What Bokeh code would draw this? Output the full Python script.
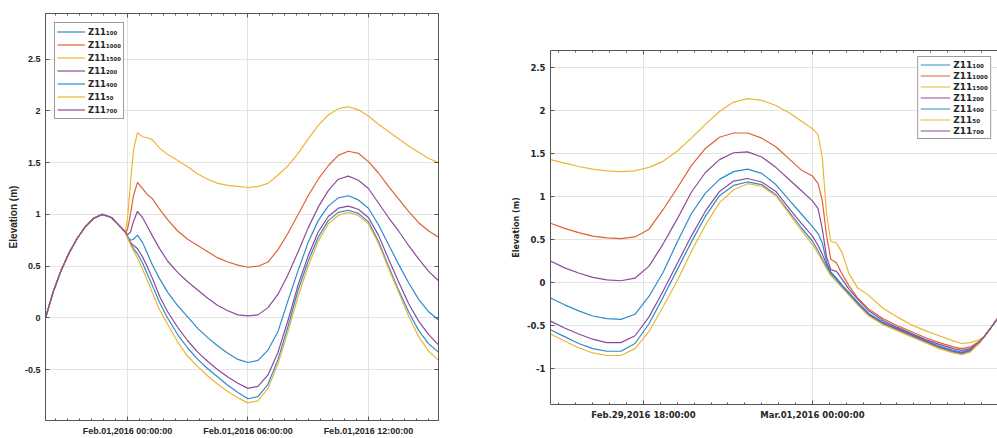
from bokeh.plotting import figure
from bokeh.models import (FixedTicker, CustomJSTickFormatter, LinearAxis, Legend,
                          LegendItem, Range1d)
from bokeh.embed import file_html
from bokeh.resources import INLINE

# ---------------- data ----------------
SERIES = ["100", "1000", "1500", "200", "400", "50", "700"]
LEGEND_LABELS = ["Z11\u2081\u2080\u2080", "Z11\u2081\u2080\u2080\u2080", "Z11\u2081\u2085\u2080\u2080",
                 "Z11\u2082\u2080\u2080", "Z11\u2084\u2080\u2080", "Z11\u2085\u2080", "Z11\u2087\u2080\u2080"]
COLORS = {"100": "#2a8ccc", "1000": "#de6236", "1500": "#ecb632", "200": "#8c4a9c",
          "400": "#2a8ccc", "50": "#ecb632", "700": "#8c4a9c"}

# Left panel: hours relative to Feb.01,2016 00:00:00
left_hours_pre = [-4.08, -3.7, -3.3, -2.9, -2.5, -2.1, -1.7, -1.25, -0.8, -0.4, -0.1]
left_common_pre = [0.0, 0.25, 0.46, 0.63, 0.77, 0.88, 0.96, 1.0, 0.97, 0.89, 0.83]
left_hours_post = [0.0, 0.15, 0.3, 0.5, 0.75, 1.0, 1.25, 1.6, 2.0, 2.5, 3.0, 3.5, 4.0, 4.5,
                   5.0, 5.5, 6.0, 6.5, 7.0, 7.5, 8.0, 8.5, 9.0, 9.5, 10.0, 10.5, 11.0, 11.5,
                   12.0, 12.5, 13.0, 13.5, 14.0, 14.5, 15.0, 15.49]
left_post = {
    "1500": [0.95, 1.30, 1.62, 1.79, 1.75, 1.74, 1.72, 1.64, 1.58, 1.52, 1.46, 1.39, 1.34, 1.30,
             1.28, 1.27, 1.26, 1.27, 1.30, 1.38, 1.47, 1.59, 1.73, 1.86, 1.96, 2.02, 2.04, 2.01,
             1.95, 1.87, 1.80, 1.73, 1.66, 1.60, 1.54, 1.50],
    "1000": [0.85, 1.00, 1.18, 1.31, 1.25, 1.19, 1.15, 1.05, 0.95, 0.84, 0.76, 0.70, 0.64, 0.58,
             0.54, 0.51, 0.49, 0.50, 0.54, 0.66, 0.82, 1.00, 1.18, 1.34, 1.47, 1.57, 1.61, 1.59,
             1.51, 1.40, 1.27, 1.15, 1.03, 0.92, 0.84, 0.78],
    "700": [0.80, 0.83, 0.93, 1.03, 0.97, 0.88, 0.79, 0.67, 0.55, 0.44, 0.35, 0.27, 0.19, 0.12,
            0.07, 0.03, 0.02, 0.03, 0.10, 0.23, 0.42, 0.64, 0.87, 1.07, 1.23, 1.34, 1.37, 1.33,
            1.25, 1.11, 0.97, 0.84, 0.70, 0.57, 0.45, 0.36],
    "400": [0.79, 0.75, 0.76, 0.80, 0.73, 0.62, 0.51, 0.38, 0.25, 0.12, 0.01, -0.10, -0.19, -0.27,
            -0.34, -0.40, -0.43, -0.41, -0.31, -0.13, 0.17, 0.46, 0.73, 0.94, 1.08, 1.16, 1.18,
            1.14, 1.06, 0.90, 0.71, 0.52, 0.34, 0.18, 0.06, -0.02],
    "200": [0.78, 0.73, 0.70, 0.67, 0.59, 0.49, 0.38, 0.21, 0.06, -0.09, -0.22, -0.33, -0.42,
            -0.50, -0.57, -0.63, -0.68, -0.66, -0.55, -0.33, -0.02, 0.32, 0.60, 0.83, 0.98, 1.06,
            1.08, 1.05, 0.97, 0.80, 0.57, 0.35, 0.14, -0.03, -0.16, -0.26],
    "100": [0.78, 0.72, 0.67, 0.62, 0.53, 0.42, 0.31, 0.15, 0.00, -0.16, -0.29, -0.40, -0.49,
            -0.57, -0.65, -0.72, -0.78, -0.76, -0.64, -0.40, -0.08, 0.27, 0.55, 0.78, 0.94, 1.02,
            1.04, 1.01, 0.93, 0.74, 0.50, 0.27, 0.06, -0.12, -0.25, -0.33],
    "50": [0.78, 0.71, 0.65, 0.58, 0.47, 0.36, 0.24, 0.08, -0.06, -0.23, -0.37, -0.47, -0.56,
           -0.64, -0.71, -0.77, -0.82, -0.80, -0.68, -0.44, -0.13, 0.21, 0.50, 0.74, 0.91, 0.99,
           1.02, 0.99, 0.91, 0.72, 0.48, 0.25, 0.02, -0.18, -0.32, -0.41],
}

# Right panel: hours relative to Mar.01,2016 00:00:00
right_hours = [-9.3, -8.8, -8.3, -7.8, -7.3, -6.8, -6.3, -5.8, -5.3, -4.8, -4.3, -3.8, -3.3,
               -2.8, -2.3, -1.8, -1.3, -0.8, -0.4, 0.0, 0.2, 0.35, 0.5, 0.65, 0.85, 1.05, 1.3,
               1.6, 2.0, 2.5, 3.0, 3.5, 4.0, 4.5, 5.0, 5.3, 5.6, 5.9, 6.1, 6.35, 6.59]
right_vals = {
    "1500": [1.43, 1.39, 1.35, 1.32, 1.30, 1.29, 1.30, 1.34, 1.41, 1.53, 1.68, 1.84, 1.99, 2.10,
             2.14, 2.12, 2.06, 1.97, 1.88, 1.79, 1.72, 1.45, 0.80, 0.48, 0.46, 0.35, 0.10, -0.06,
             -0.15, -0.30, -0.40, -0.49, -0.56, -0.62, -0.68, -0.71, -0.70, -0.67, -0.63, -0.52,
             -0.41],
    "1000": [0.69, 0.63, 0.58, 0.54, 0.52, 0.51, 0.53, 0.62, 0.85, 1.10, 1.36, 1.56, 1.69, 1.74,
             1.74, 1.68, 1.58, 1.43, 1.31, 1.24, 1.15, 0.95, 0.55, 0.27, 0.23, 0.10, -0.04, -0.18,
             -0.31, -0.42, -0.50, -0.57, -0.64, -0.70, -0.75, -0.77, -0.75, -0.69, -0.63, -0.52,
             -0.41],
    "700": [0.25, 0.17, 0.11, 0.06, 0.03, 0.02, 0.05, 0.19, 0.45, 0.74, 1.05, 1.28, 1.43, 1.51,
            1.52, 1.46, 1.34, 1.19, 1.07, 0.95, 0.86, 0.62, 0.30, 0.15, 0.13, 0.04, -0.08, -0.19,
            -0.33, -0.44, -0.52, -0.59, -0.66, -0.72, -0.77, -0.79, -0.77, -0.70, -0.63, -0.52,
            -0.41],
    "400": [-0.18, -0.26, -0.33, -0.39, -0.42, -0.43, -0.37, -0.16, 0.12, 0.47, 0.80, 1.04, 1.20,
            1.29, 1.32, 1.27, 1.14, 0.95, 0.80, 0.65, 0.57, 0.46, 0.24, 0.12, 0.05, -0.03, -0.12,
            -0.23, -0.36, -0.46, -0.53, -0.60, -0.67, -0.74, -0.79, -0.81, -0.78, -0.70, -0.63,
            -0.52, -0.41],
    "200": [-0.45, -0.53, -0.60, -0.66, -0.70, -0.70, -0.62, -0.40, -0.10, 0.22, 0.54, 0.83, 1.06,
            1.18, 1.21, 1.17, 1.06, 0.85, 0.69, 0.54, 0.43, 0.33, 0.21, 0.12, 0.05, -0.03, -0.12,
            -0.23, -0.37, -0.47, -0.54, -0.61, -0.68, -0.75, -0.80, -0.82, -0.79, -0.71, -0.63,
            -0.52, -0.41],
    "100": [-0.55, -0.63, -0.71, -0.77, -0.80, -0.80, -0.71, -0.48, -0.17, 0.15, 0.47, 0.77, 1.01,
            1.13, 1.17, 1.14, 1.02, 0.81, 0.64, 0.48, 0.37, 0.27, 0.18, 0.10, 0.03, -0.05, -0.14,
            -0.25, -0.38, -0.48, -0.55, -0.62, -0.69, -0.76, -0.81, -0.83, -0.80, -0.71, -0.63,
            -0.52, -0.41],
    "50": [-0.60, -0.68, -0.76, -0.82, -0.85, -0.85, -0.77, -0.57, -0.28, 0.02, 0.36, 0.67, 0.93,
           1.08, 1.15, 1.12, 1.01, 0.79, 0.61, 0.44, 0.34, 0.25, 0.16, 0.08, 0.01, -0.06, -0.15,
           -0.26, -0.39, -0.49, -0.56, -0.63, -0.70, -0.77, -0.82, -0.84, -0.81, -0.71, -0.63,
           -0.52, -0.41],
}

LEFT_XTICKS = [0, 6, 12]
LEFT_XLABELS = ["Feb.01,2016 00:00:00", "Feb.01,2016 06:00:00", "Feb.01,2016 12:00:00"]
RIGHT_XTICKS = [-6, 0]
RIGHT_XLABELS = ["Feb.29,2016 18:00:00", "Mar.01,2016 00:00:00"]
LEFT_YTICKS = [-0.5, 0, 0.5, 1, 1.5, 2, 2.5]
RIGHT_YTICKS = [-1, -0.5, 0, 0.5, 1, 1.5, 2, 2.5]
Y_LABEL = "Elevation (m)"

TXT = "#262626"
AX = "#555555"
GRID = "#e3e3e3"


def minor_list(start, stop, majors):
    out = []
    k = 0
    while start + k * 0.6 <= stop + 1e-9:
        v = round(start + k * 0.6, 2)
        if all(abs(v - m) > 1e-6 for m in majors):
            out.append(v)
        k += 1
    return out


def xfmt(ticks, labels):
    return CustomJSTickFormatter(
        args=dict(labels={str(t): l for t, l in zip(ticks, labels)}),
        code="const k = String(Math.round(tick*100)/100); return (k in labels) ? labels[k] : '';")


def style_axis(ax, font, size, labels=True):
    ax.axis_line_color = AX
    ax.axis_line_width = 1
    ax.major_tick_line_color = AX
    ax.minor_tick_line_color = AX
    ax.major_tick_in = 4
    ax.major_tick_out = 0
    ax.minor_tick_in = 2
    ax.minor_tick_out = 0
    ax.major_label_text_font = font
    ax.major_label_text_font_style = "bold"
    ax.major_label_text_color = TXT
    ax.axis_label_text_font = font
    ax.axis_label_text_font_style = "bold"
    ax.axis_label_text_color = TXT
    if labels:
        ax.major_label_text_font_size = size
        ax.major_label_standoff = 5
    else:
        ax.major_label_text_font_size = "0px"
        ax.major_label_standoff = 0
        ax.formatter = CustomJSTickFormatter(code="return '';")


def make_panel(xr, yr, hours_fn, vals_fn, xticks, xlabels, yticks, xminor, font, tsize,
               lfont, lsize, ysize, width, height, borders, legend_loc, legend_geom, outline):
    p = figure(width=width, height=height, x_range=Range1d(*xr), y_range=Range1d(*yr),
               output_backend="svg", toolbar_location=None, tools="",
               min_border_left=borders[0], min_border_right=borders[1],
               min_border_top=borders[2], min_border_bottom=borders[3])
    p.background_fill_color = "white"
    p.border_fill_color = "white"
    p.outline_line_color = AX if outline else None

    xt = FixedTicker(ticks=xticks, minor_ticks=xminor)
    yt = FixedTicker(ticks=yticks, minor_ticks=[])

    p.xaxis.ticker = xt
    p.xaxis.formatter = xfmt(xticks, xlabels)
    p.yaxis.ticker = yt
    p.yaxis.formatter = CustomJSTickFormatter(code="return String(Math.round(tick*100)/100);")
    p.yaxis.axis_label = Y_LABEL
    p.yaxis.axis_label_standoff = 3
    p.yaxis.axis_label_text_font_size = ysize
    style_axis(p.xaxis[0], font, tsize)
    style_axis(p.yaxis[0], font, tsize)

    top = LinearAxis(ticker=xt)
    style_axis(top, font, tsize, labels=False)
    p.add_layout(top, "above")
    if outline:
        right = LinearAxis(ticker=yt)
        style_axis(right, font, tsize, labels=False)
        p.add_layout(right, "right")

    p.xgrid.grid_line_color = GRID
    p.ygrid.grid_line_color = GRID
    p.xgrid.ticker = xt
    p.ygrid.ticker = yt

    items = []
    for key, lab in zip(SERIES, LEGEND_LABELS):
        r = p.line(hours_fn(key), vals_fn(key), line_color=COLORS[key], line_width=1.2)
        items.append(LegendItem(label=lab, renderers=[r]))

    gw, gh, pad, margin = legend_geom
    leg = Legend(items=items, location=legend_loc)
    leg.label_text_font = lfont
    leg.label_text_font_style = "bold"
    leg.label_text_font_size = lsize
    leg.label_text_color = TXT
    leg.glyph_width = gw
    leg.glyph_height = gh
    leg.label_height = gh
    leg.label_standoff = 3
    leg.spacing = 0
    leg.padding = pad
    leg.margin = margin
    leg.border_line_color = "#3a3a3a"
    leg.border_line_width = 1
    leg.background_fill_color = "white"
    leg.background_fill_alpha = 1
    p.add_layout(leg)
    return p


left = make_panel(
    (-4.08, 15.49), (-0.99, 2.94),
    lambda k: left_hours_pre + left_hours_post,
    lambda k: left_common_pre + left_post[k],
    LEFT_XTICKS, LEFT_XLABELS, LEFT_YTICKS, minor_list(-3.6, 15.0, LEFT_XTICKS),
    "Liberation Sans", "9px", "DejaVu Sans", "8.5px", "10px", 472, 438, (45, 34, 13, 15),
    "top_left", (28, 13, 2, 9), True)

right = make_panel(
    (-9.30, 6.57), (-1.42, 2.70),
    lambda k: right_hours,
    lambda k: right_vals[k],
    RIGHT_XTICKS, RIGHT_XLABELS, RIGHT_YTICKS, minor_list(-9.0, 6.0, RIGHT_XTICKS),
    "DejaVu Sans", "8.5px", "DejaVu Sans", "9px", "8px", 517, 438, (70, 0, 50, 34),
    "top_right", (30, 11, 2, 6), False)

left.styles = {"position": "absolute", "left": "0px", "top": "0px"}
right.styles = {"position": "absolute", "left": "480px", "top": "0px"}

open("out.html", "w").write(file_html([left, right], INLINE))
